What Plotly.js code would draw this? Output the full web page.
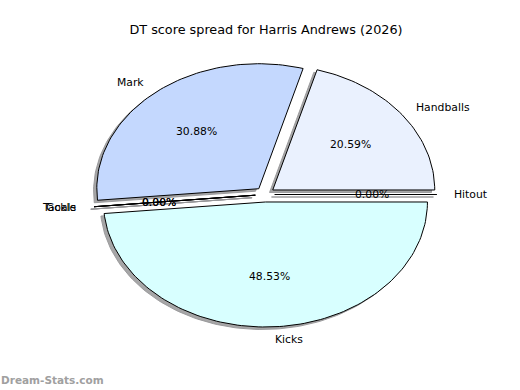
<!DOCTYPE html>
<html>
<head>
<meta charset="utf-8">
<script src="https://cdn.plot.ly/plotly-3.0.1.min.js"></script>
<style>html,body{margin:0;padding:0;background:#fff;}</style>
</head>
<body>
<div id="chart" style="width:520px;height:390px;"></div>
<script>
// ---- data ----
const labels = ["Hitout", "Handballs", "Mark", "Tackle", "Goals", "Kicks"];
const values = [0, 14, 21, 0, 0, 33];
const colors = ["#ffffff", "#eaf1fe", "#c4d8fe", "#ffffff", "#ffffff", "#d8ffff"];
const explode = [0.06, 0.06, 0.06, 0.06, 0.06, 0.06];
const chartTitle = "DT score spread for Harris Andrews (2026)";
const watermark = "Dream-Stats.com";

// ---- build wedges (matplotlib-style pie, start angle 0, counterclockwise) ----
const total = values.reduce((a, b) => a + b, 0);
const traces = [];
const shadows = [];
const annotations = [];
const shadowOff = -0.02;
let theta1 = 0;
const FONT = "DejaVu Sans";

values.forEach((v, i) => {
  const frac = v / total;
  const theta2 = theta1 + 360 * frac;
  const mid = (theta1 + theta2) / 2 * Math.PI / 180;
  const cx = explode[i] * Math.cos(mid);
  const cy = explode[i] * Math.sin(mid);
  const xs = [cx], ys = [cy];
  const n = Math.max(2, Math.ceil((theta2 - theta1) / 1.5));
  for (let k = 0; k <= n; k++) {
    const t = (theta1 + (theta2 - theta1) * k / n) * Math.PI / 180;
    xs.push(cx + Math.cos(t));
    ys.push(cy + Math.sin(t));
  }
  xs.push(cx); ys.push(cy);
  shadows.push({
    type: "scatter", mode: "lines", x: xs.map(x => x + shadowOff), y: ys.map(y => y + shadowOff),
    fill: "toself", fillcolor: "rgba(150,150,152,0.85)",
    line: {color: "rgba(150,150,152,0.9)", width: 1}, hoverinfo: "skip", showlegend: false
  });
  traces.push({
    type: "scatter", mode: "lines", x: xs, y: ys,
    fill: "toself", fillcolor: colors[i],
    line: {color: "#000000", width: 1}, hoverinfo: "skip", showlegend: false
  });
  // label
  const lx = cx + 1.1 * Math.cos(mid), ly = cy + 1.1 * Math.sin(mid);
  annotations.push({
    x: lx, y: ly, xref: "x", yref: "y", text: labels[i], showarrow: false,
    xanchor: lx > 0 ? "left" : "right", yanchor: "middle",
    font: {family: FONT, size: 10.8, color: "#000"}, borderpad: 0
  });
  // pct
  const px = cx + 0.6 * Math.cos(mid), py = cy + 0.6 * Math.sin(mid);
  annotations.push({
    x: px, y: py, xref: "x", yref: "y", text: (frac * 100).toFixed(2) + "%", showarrow: false,
    xanchor: "center", yanchor: "middle",
    font: {family: FONT, size: 10.8, color: "#000"}, borderpad: 0
  });
  theta1 = theta2;
});

annotations.push({
  x: 0, y: 1 - 380 / 390, xref: "paper", yref: "paper", text: "<b>" + watermark + "</b>", showarrow: false,
  xanchor: "left", yanchor: "middle",
  font: {family: FONT, size: 10.5, color: "#a0a0a0"}, borderpad: 0
});

const layout = {
  width: 520, height: 390,
  margin: {l: 0, r: 0, t: 0, b: 0, pad: 0},
  paper_bgcolor: "#ffffff", plot_bgcolor: "#ffffff",
  title: {text: chartTitle, x: 266 / 520, xanchor: "center", y: 1 - 30 / 390, yanchor: "middle",
          xref: "paper", yref: "paper",
          font: {family: FONT, size: 12.8, color: "#000"}},
  xaxis: {range: [-265 / 162, (520 - 265) / 162], visible: false, fixedrange: true},
  yaxis: {range: [-(390 - 194.5) / 125, 194.5 / 125], visible: false, fixedrange: true},
  annotations: annotations,
  showlegend: false
};

Plotly.newPlot("chart", shadows.concat(traces), layout, {displayModeBar: false, staticPlot: true});
</script>
</body>
</html>
